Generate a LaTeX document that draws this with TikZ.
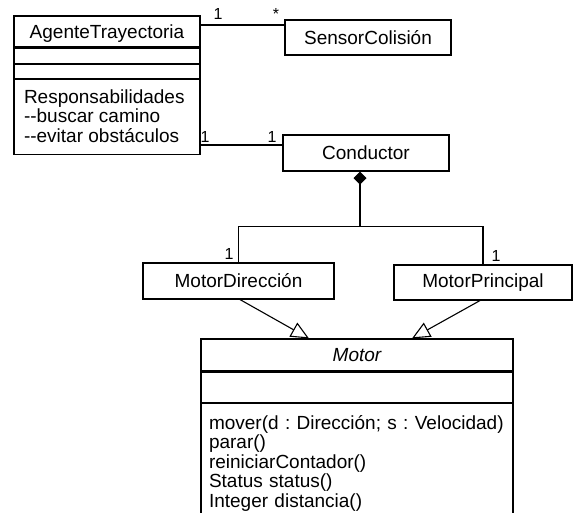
\documentclass[tikz,border=0pt]{standalone}
\usepackage{fontspec}
\setmainfont{Liberation Sans}[Ligatures=TeXOff]
\usetikzlibrary{arrows.meta,positioning}

\begin{document}
\begin{tikzpicture}[x=1pt,y=-1pt,node distance=0pt,line width=1.1pt,
  every node/.style={font=\fontsize{19}{19.5}\selectfont\frenchspacing},
  cls/.style={draw,inner sep=0pt},
  mult/.style={font=\fontsize{16}{16}\selectfont,inner sep=0pt}]
\clip (0,0) rectangle (573,512);
% AgenteTrayectoria with its compartments
\node[cls,minimum width=186pt,minimum height=31pt,text height=18pt,text depth=4pt] (at) at (107,31.5){AgenteTrayectoria};
\node[cls,minimum width=186pt,minimum height=15pt,below=of at] (at2){};
\node[cls,minimum width=186pt,minimum height=14pt,below=of at2] (at3){};
\node[cls,minimum width=186pt,minimum height=75pt,below=of at3] (at4){};
\node[anchor=north west,align=left,inner sep=0pt] (rsp) at ([xshift=10pt,yshift=-10pt]at4.north west){Responsabilidades\\--buscar camino\\--evitar obstáculos};
\node[cls,minimum width=166pt,minimum height=35pt] (sc) at (368,37.5){SensorColisión};
\node[cls,minimum width=166pt,minimum height=36pt] (cd) at (366,153){Conductor};
\node[cls,minimum width=191pt,minimum height=36pt] (md) at (238.5,281){MotorDirección};
\node[cls,minimum width=178pt,minimum height=35pt] (mp) at (483,282.5){MotorPrincipal};
% Motor
\node[cls,minimum width=312pt,minimum height=32pt] (mo) at (357,355){\itshape Motor};
\node[cls,minimum width=312pt,minimum height=30pt,below=of mo] (mo2){};
\node[cls,text width=296pt,inner xsep=8pt,minimum height=120pt,align=left,below=of mo2] (mo3){mover(d : Dirección; s : Velocidad)\\parar()\\reiniciarContador()\\Status status()\\Integer distancia()};
% associations
\coordinate (s1) at ([yshift=12.5pt]sc.west);
\coordinate (c1) at ([yshift=8pt]cd.west);
\draw (s1 -| at.east) -- (s1);
\draw (c1 -| at4.east) -- (c1);
\node[mult] (m1) at (218,14){1};
\node[mult] (m2) at (276,14){*};
\node[mult] (m3) at (205,137){1};
\node[mult] (m4) at (272,137){1};
% composition
\coordinate (j) at ([xshift=-6pt,yshift=-55pt]cd.south);
\draw[{Diamond[length=13pt,width=13pt]}-] ([xshift=-6pt]cd.south) -- (j);
\draw (md.north) |- (j) -| (mp.north);
\node[mult] (m5) at (229,254){1};
\node[mult] (m6) at (496,256){1};
% generalization
\draw[-{Triangle[open,length=18pt,width=16pt]}] ([xshift=1.5pt]md.south) -- ([xshift=-48pt]mo.north);
\draw[-{Triangle[open,length=18pt,width=16pt]}] ([xshift=-3pt]mp.south) -- ([xshift=55pt]mo.north);
\end{tikzpicture}
\end{document}
